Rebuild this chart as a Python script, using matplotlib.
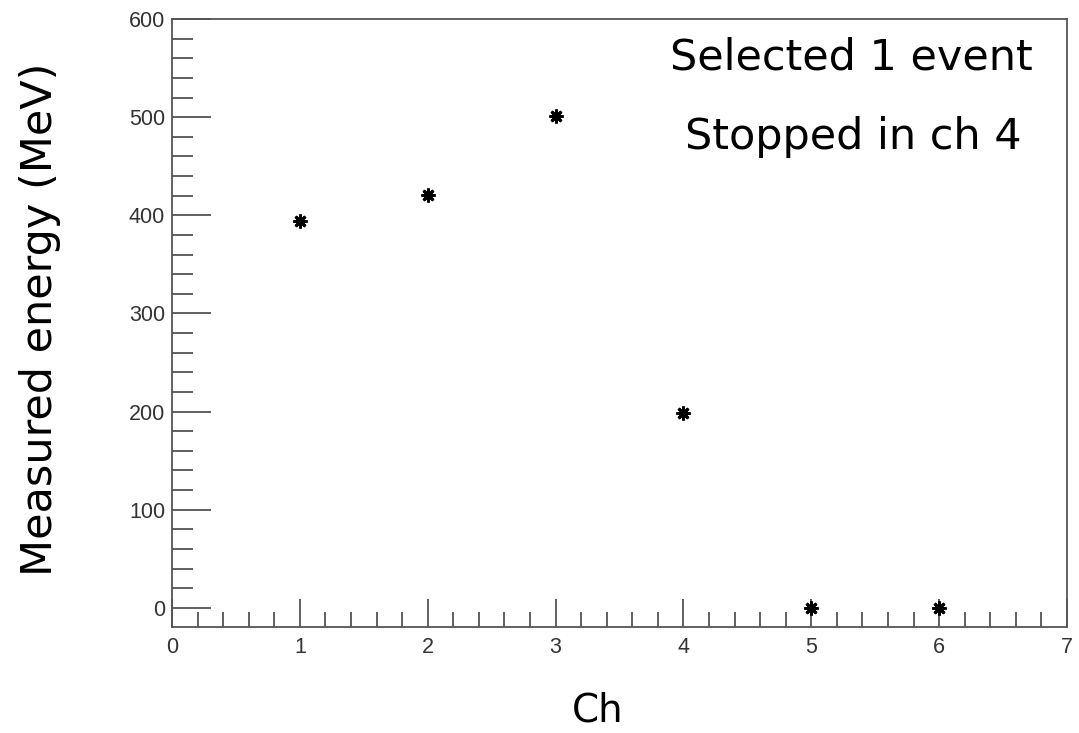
import numpy as np
import matplotlib
matplotlib.use('Agg')
import matplotlib.pyplot as plt
from matplotlib.ticker import MultipleLocator

# Energie mesuree par canal
ch = [1, 2, 3, 4, 5, 6]
energy = [394, 421, 501, 199, 0, 0]

ticks_x = [0, 1, 2, 3, 4, 5, 6, 7]
ticks_y = [0, 100, 200, 300, 400, 500, 600]

fig = plt.figure(figsize=(10.79, 7.33), dpi=100)
ax = fig.add_axes([0.1594, 0.1446, 0.9889 - 0.1594, 0.974 - 0.1446])

ax.plot(ch, energy, linestyle='none', marker=(8, 2, 0), markersize=10,
        markeredgewidth=2.0, color='black')

ax.set_xlim(0, 7)
ax.set_ylim(-19.5, 600)
ax.set_xticks(ticks_x)
ax.set_yticks(ticks_y)
ax.xaxis.set_minor_locator(MultipleLocator(0.2))
ax.yaxis.set_minor_locator(MultipleLocator(20))

tick_font = 'Liberation Sans'
for lab in ax.get_xticklabels() + ax.get_yticklabels():
    lab.set_fontfamily(tick_font)
    lab.set_fontsize(15.5)
    lab.set_color('#333333')

ax.tick_params(axis='x', which='major', direction='in', length=20, width=1.2,
               color='#444444', pad=7)
ax.tick_params(axis='x', which='minor', direction='in', length=11, width=1.2,
               color='#444444')
ax.tick_params(axis='y', which='major', direction='in', length=28, width=1.2,
               color='#444444', pad=5)
ax.tick_params(axis='y', which='minor', direction='in', length=15, width=1.2,
               color='#444444')
for s in ax.spines.values():
    s.set_linewidth(1.3)
    s.set_color('#555555')

label_font = 'DejaVu Sans'
fig.text(598 / 1079, 1 - 711 / 733, 'Ch', fontsize=28, family=label_font,
         ha='center', va='center')
fig.text(40 / 1079, 1 - 319 / 733, 'Measured energy (MeV)', fontsize=31,
         family=label_font, ha='center', va='center', rotation=90)

fig.text(851 / 1079, 1 - 57 / 733, 'Selected 1 event', fontsize=31,
         family=label_font, ha='center', va='center')
fig.text(853 / 1079, 1 - 137 / 733, 'Stopped in ch 4', fontsize=31,
         family=label_font, ha='center', va='center')

fig.savefig('out.png', dpi=100)
